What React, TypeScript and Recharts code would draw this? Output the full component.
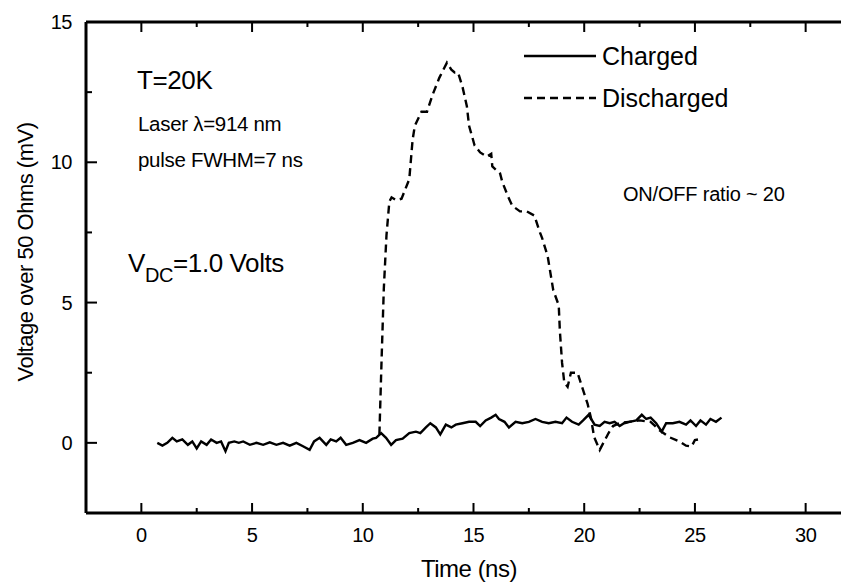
import { LineChart, Line, XAxis, YAxis } from 'recharts'

// time (ns) / voltage (mV)
const chargedT = [
  0.72, 0.95, 1.17, 1.4, 1.6, 1.85, 2.1, 2.3, 2.5, 2.7, 2.95, 3.15, 3.4, 3.6, 3.8, 3.95, 4.2, 4.4, 4.6, 4.9,
  5.2, 5.5, 5.8, 6.1, 6.4, 6.7, 7.0, 7.3, 7.6, 7.8, 8.05, 8.35, 8.55, 8.8, 9.0, 9.25, 9.55, 9.85, 10.15, 10.45,
  10.6, 10.83, 11.05, 11.28, 11.5, 11.8, 12.1, 12.4, 12.6, 12.85, 13.05, 13.3, 13.5, 13.75, 14.0, 14.2, 14.5, 14.8, 15.1, 15.3,
  15.55, 15.8, 16.0, 16.15, 16.4, 16.6, 16.9, 17.2, 17.5, 17.8, 18.1, 18.4, 18.7, 19.0, 19.2, 19.45, 19.75, 19.95, 20.2, 20.47,
  20.7, 20.92, 21.15, 21.37, 21.6, 21.8, 22.05, 22.35, 22.6, 22.8, 23.0, 23.25, 23.5, 23.7, 24.0, 24.3, 24.6, 24.8, 25.05, 25.25,
  25.5, 25.7, 25.95, 26.2,
]
const chargedV = [
  0, -0.1, 0, 0.18, 0.05, 0.12, -0.07, 0.05, -0.2, 0.05, -0.07, 0.12, 0, 0.05, -0.3, 0, 0.05, 0, 0.05, -0.07,
  0, -0.07, 0.02, -0.07, 0, -0.1, 0, -0.12, -0.25, 0.05, 0.18, -0.07, 0.12, 0.05, 0.18, -0.07, 0, 0.1, 0, 0.15,
  0.18, 0.35, 0.18, -0.07, 0.1, 0.15, 0.35, 0.4, 0.35, 0.55, 0.7, 0.55, 0.3, 0.65, 0.55, 0.65, 0.7, 0.75, 0.75, 0.6,
  0.8, 0.9, 1.0, 0.85, 0.75, 0.55, 0.75, 0.7, 0.75, 0.85, 0.75, 0.7, 0.75, 0.7, 0.9, 0.75, 0.65, 0.8, 1.0, 0.65,
  0.6, 0.75, 0.7, 0.75, 0.6, 0.7, 0.75, 0.8, 1.0, 0.85, 0.9, 0.7, 0.4, 0.7, 0.7, 0.75, 0.65, 0.8, 0.6, 0.8,
  0.65, 0.85, 0.75, 0.9,
]

const dischargedT = [
  10.75, 10.85, 10.95, 11.07, 11.2, 11.3, 11.5, 11.75, 12.1, 12.25, 12.35, 12.65, 12.9, 13.15, 13.45, 13.8, 14.0, 14.15, 14.3, 14.5,
  14.7, 14.8, 15.05, 15.3, 15.6, 15.8, 15.85, 16.2, 16.3, 16.55, 16.75, 17.1, 17.4, 17.75, 18.0, 18.1, 18.35, 18.6, 18.85, 18.9,
  19.0, 19.1, 19.25, 19.4, 19.7, 19.9, 20.15, 20.3, 20.45, 20.7, 20.9, 21.1, 21.3, 21.6, 22.0, 22.5, 23.0, 23.4, 23.85, 24.3,
  24.6, 24.85, 25.0, 25.2,
]
const dischargedV = [
  0.3, 3.0, 5.5, 7.4, 8.6, 8.75, 8.65, 8.7, 9.4, 10.8, 11.3, 11.8, 11.8, 12.4, 13.0, 13.55, 13.3, 13.2, 13.2, 12.7,
  12.0, 11.3, 10.6, 10.35, 10.2, 10.3, 9.85, 9.6, 9.3, 8.8, 8.45, 8.25, 8.25, 8.1, 7.5, 7.3, 6.65, 5.45, 4.9, 4.0,
  2.85, 2.15, 2.0, 2.5, 2.5, 2.0, 1.4, 0.9, 0.2, -0.25, 0.05, 0.35, 0.6, 0.7, 0.75, 0.8, 0.75, 0.45, 0.2, 0.05,
  -0.1, -0.13, 0.1, 0.13,
]

const xTicks = [0, 2.5, 5, 7.5, 10, 12.5, 15, 17.5, 20, 22.5, 25, 27.5, 30]
const yTicks = [0, 2.5, 5, 7.5, 10, 12.5, 15]

const charged = chargedT.map((t, i) => ({ t, v: chargedV[i] }))
const discharged = dischargedT.map((t, i) => ({ t, v: dischargedV[i] }))

const FONT = '"Liberation Sans", Arial, sans-serif'
const X_DOMAIN: [number, number] = [-2.5, 32.5]
const Y_DOMAIN: [number, number] = [-2.5, 15]

const isMajor = (v: number) => v % 5 === 0

// inward ticks drawn as small filled rects, majors longer
function BottomTick({ x, y, payload }: any) {
  const cx = Number(x)
  const cy = Number(y)
  const major = isMajor(payload.value)
  const len = major ? 10 : 5
  return (
    <g>
      <rect x={cx - 1} y={cy - len} width={2} height={len} fill="#000" />
      {major && (
        <text x={cx} y={cy + 29} textAnchor="middle" fontSize={20} fontFamily={FONT} letterSpacing={-0.5} fill="#000">
          {payload.value}
        </text>
      )}
    </g>
  )
}

function TopTick({ x, y, payload }: any) {
  const cx = Number(x)
  const cy = Number(y)
  const len = isMajor(payload.value) ? 10 : 5
  return <rect x={cx - 1} y={cy} width={2} height={len} fill="#000" />
}

function LeftTick({ x, y, payload }: any) {
  const cx = Number(x)
  const cy = Number(y)
  const major = isMajor(payload.value)
  const len = major ? 11 : 6
  return (
    <g>
      <rect x={cx} y={cy - 1} width={len} height={2} fill="#000" />
      {major && (
        <text x={cx - 14} y={cy + 7} textAnchor="end" fontSize={20} fontFamily={FONT} letterSpacing={-0.5} fill="#000">
          {payload.value}
        </text>
      )}
    </g>
  )
}

function RightTick({ x, y, payload }: any) {
  const cx = Number(x)
  const cy = Number(y)
  const len = isMajor(payload.value) ? 11 : 6
  return <rect x={cx - len} y={cy - 1} width={len} height={2} fill="#000" />
}

export default function App() {
  return (
    <div style={{ position: 'fixed', left: 0, top: 0, width: 841, height: 584, overflow: 'hidden', background: '#fff' }}>
      <LineChart width={870} height={584} margin={{ top: 2, right: 0, bottom: 41, left: 6 }}>
        <XAxis
          dataKey="t"
          type="number"
          domain={X_DOMAIN}
          ticks={xTicks}
          height={30}
          tickSize={0}
          tickMargin={0}
          stroke="#000"
          strokeWidth={3}
          tick={(p: any) => <BottomTick {...p} />}
        />
        <XAxis
          xAxisId="top"
          orientation="top"
          dataKey="t"
          type="number"
          domain={X_DOMAIN}
          ticks={xTicks}
          height={20}
          tickSize={0}
          tickMargin={0}
          stroke="#000"
          strokeWidth={3}
          tick={(p: any) => <TopTick {...p} />}
        />
        <YAxis
          type="number"
          domain={Y_DOMAIN}
          ticks={yTicks}
          width={80}
          tickSize={0}
          tickMargin={0}
          stroke="#000"
          strokeWidth={3}
          tick={(p: any) => <LeftTick {...p} />}
        />
        <YAxis
          yAxisId="right"
          orientation="right"
          type="number"
          domain={Y_DOMAIN}
          ticks={yTicks}
          width={9}
          tickSize={0}
          tickMargin={0}
          stroke="#000"
          strokeWidth={3}
          tick={(p: any) => <RightTick {...p} />}
        />
        <Line
          data={charged}
          dataKey="v"
          type="linear"
          stroke="#000"
          strokeWidth={2.4}
          dot={false}
          activeDot={false}
          isAnimationActive={false}
        />
        <Line
          data={discharged}
          dataKey="v"
          type="linear"
          stroke="#000"
          strokeWidth={2.4}
          strokeDasharray="8 5"
          dot={false}
          activeDot={false}
          isAnimationActive={false}
        />
        {/* invisible copy so the top/right frame axes get their ticks */}
        <Line
          data={charged}
          dataKey="v"
          xAxisId="top"
          yAxisId="right"
          stroke="none"
          dot={false}
          activeDot={false}
          legendType="none"
          isAnimationActive={false}
        />
      </LineChart>
      <svg width={841} height={584} style={{ position: 'absolute', left: 0, top: 0, pointerEvents: 'none' }}>
        <g fontFamily={FONT} fill="#000">
          <text x={137} y={89} fontSize={26} letterSpacing={-0.4}>T=20K</text>
          <text x={138} y={131} fontSize={20.5} letterSpacing={-0.3}>Laser λ=914 nm</text>
          <text x={138} y={167} fontSize={20.5} letterSpacing={-0.3}>pulse FWHM=7 ns</text>
          <text x={128} y={272} fontSize={26} letterSpacing={-0.4}>
            V<tspan fontSize={20} dy={10}>DC</tspan><tspan dy={-10}>=1.0 Volts</tspan>
          </text>
          <text x={623} y={201} fontSize={20} letterSpacing={-0.2}>ON/OFF ratio ~ 20</text>
          <line x1={524} y1={56} x2={596} y2={56} stroke="#000" strokeWidth={2.4} />
          <line x1={524} y1={98} x2={596} y2={98} stroke="#000" strokeWidth={2.4} strokeDasharray="8 5" />
          <text x={602} y={65} fontSize={25}>Charged</text>
          <text x={602} y={107} fontSize={25}>Discharged</text>
          <text x={469} y={577} fontSize={24} textAnchor="middle" letterSpacing={-0.5}>Time (ns)</text>
          <text
            x={33}
            y={252}
            fontSize={22}
            textAnchor="middle"
            letterSpacing={-0.5}
            transform="rotate(-90, 33, 252)"
          >
            Voltage over 50 Ohms (mV)
          </text>
        </g>
      </svg>
    </div>
  )
}
